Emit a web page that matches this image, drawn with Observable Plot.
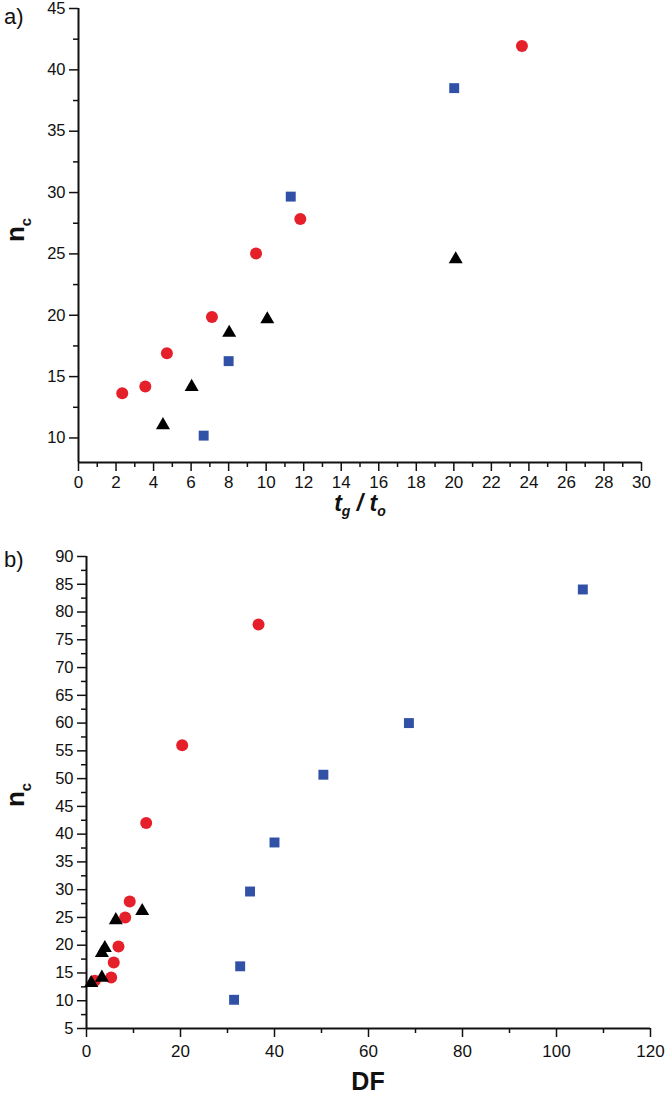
<!DOCTYPE html>
<html>
<head>
<meta charset="utf-8">
<script src="https://cdn.jsdelivr.net/npm/d3@7"></script>
<script src="https://cdn.jsdelivr.net/npm/@observablehq/plot@0.6"></script>
<style>
  html, body { margin: 0; padding: 0; background: #fff; }
  svg { display: block; }
</style>
</head>
<body>
<div id="chart"></div>
<script>
// ---- Panel a) : n_c vs tg/to ----
const aRedX  = [2.33, 3.56, 4.71, 7.11, 9.46, 11.82, 23.63];
const aRedY  = [13.65, 14.19, 16.91, 19.85, 25.04, 27.85, 41.94];
const aBlueX = [6.67, 8.0, 11.31, 20.02];
const aBlueY = [10.19, 16.26, 29.67, 38.51];
const aTriX  = [4.5, 6.03, 8.03, 10.06, 20.1];
const aTriY  = [11.04, 14.16, 18.57, 19.67, 24.56];
const aXMajor = [0, 2, 4, 6, 8, 10, 12, 14, 16, 18, 20, 22, 24, 26, 28, 30];
const aXMinor = [1, 3, 5, 7, 9, 11, 13, 15, 17, 19, 21, 23, 25, 27, 29];
const aYMajor = [10, 15, 20, 25, 30, 35, 40, 45];
const aYMinor = [12.5, 17.5, 22.5, 27.5, 32.5, 37.5, 42.5];

// ---- Panel b) : n_c vs DF ----
const bRedX  = [1.77, 5.25, 5.8, 6.8, 8.23, 9.2, 12.7, 20.36, 36.6];
const bRedY  = [13.6, 14.18, 16.9, 19.77, 25.0, 27.87, 42.0, 56.02, 77.75];
const bBlueX = [31.4, 32.7, 34.8, 40.0, 50.4, 68.6, 105.6];
const bBlueY = [10.17, 16.2, 29.67, 38.5, 50.7, 60.0, 84.06];
const bTriX  = [1.0, 3.27, 3.27, 3.9, 6.24, 11.85];
const bTriY  = [13.18, 14.16, 18.59, 19.5, 24.52, 26.15];
const bXMajor = [0, 20, 40, 60, 80, 100, 120];
const bXMinor = [10, 30, 50, 70, 90, 110];
const bYMajor = [5, 10, 15, 20, 25, 30, 35, 40, 45, 50, 55, 60, 65, 70, 75, 80, 85, 90];
const bYMinor = [7.5, 12.5, 17.5, 22.5, 27.5, 32.5, 37.5, 42.5, 47.5, 52.5, 57.5, 62.5, 67.5, 72.5, 77.5, 82.5, 87.5];

const RED = "#e5202a", BLUE = "#3051a6", BLACK = "#000";
const FONT = "'Liberation Sans', Arial, sans-serif";
const pts = (xs, ys) => xs.map((x, i) => ({x, y: ys[i]}));

function panel(o) {
  return Plot.plot({
    width: 666, height: o.height,
    marginLeft: o.ml, marginRight: o.mr, marginTop: o.mt, marginBottom: o.mb,
    style: {fontFamily: FONT, background: "#fff", color: "#111"},
    x: {domain: o.xDomain},
    y: {domain: o.yDomain},
    marks: [
      Plot.axisY({ticks: o.yMinor, tickSize: 5, tickFormat: () => "", label: null, strokeWidth: 1.5}),
      Plot.axisY({ticks: o.yMajor, tickSize: 9, tickPadding: 4, fontSize: 16.5, label: null, strokeWidth: 1.5}),
      Plot.axisX({ticks: o.xMinor, tickSize: 5, tickFormat: () => "", label: null, strokeWidth: 1.5}),
      Plot.axisX({ticks: o.xMajor, tickSize: 9, tickPadding: o.xPad, fontSize: 17, label: null, strokeWidth: 1.5}),
      Plot.ruleX([o.xDomain[0]], {stroke: "#111", strokeWidth: 2}),
      Plot.ruleY([o.yDomain[0]], {stroke: "#111", strokeWidth: 2}),
      Plot.dot(pts(o.blueX, o.blueY), {x: "x", y: "y", symbol: "square", fill: BLUE, r: 5.6}),
      Plot.dot(pts(o.redX, o.redY), {x: "x", y: "y", symbol: "circle", fill: RED, r: 6}),
      Plot.dot(pts(o.triX, o.triY), {x: "x", y: "y", symbol: "triangle", fill: BLACK, r: 5.2})
    ]
  });
}

const svgA = panel({
  height: 530, ml: 78, mr: 25, mt: 8, mb: 68, xPad: 4,
  xDomain: [0, 30], yDomain: [8, 45],
  xMajor: aXMajor, xMinor: aXMinor, yMajor: aYMajor, yMinor: aYMinor,
  redX: aRedX, redY: aRedY, blueX: aBlueX, blueY: aBlueY, triX: aTriX, triY: aTriY
});
const svgB = panel({
  height: 568, ml: 86, mr: 16, mt: 26, mb: 70, xPad: 7,
  xDomain: [0, 120], yDomain: [5, 90],
  xMajor: bXMajor, xMinor: bXMinor, yMajor: bYMajor, yMinor: bYMinor,
  redX: bRedX, redY: bRedY, blueX: bBlueX, blueY: bBlueY, triX: bTriX, triY: bTriY
});

// Titles / axis labels with subscripts
function addLabels(svg, panelLabel, panelY, yLabelY, xLabelX, xLabelY, xFont, xLabelParts, xItalic) {
  const s = d3.select(svg);
  s.append("text").attr("x", 4).attr("y", panelY).attr("text-anchor", "start")
    .attr("font-family", FONT).attr("font-size", 22).attr("fill", "#111").text(panelLabel);
  const ny = s.append("text")
    .attr("transform", `translate(24,${yLabelY}) rotate(-90)`)
    .attr("text-anchor", "middle").attr("font-family", FONT)
    .attr("font-weight", "bold").attr("font-size", 26).attr("fill", "#111");
  ny.append("tspan").text("n");
  ny.append("tspan").attr("font-size", 15).attr("dy", 7).text("c");
  const xl = s.append("text").attr("x", xLabelX).attr("y", xLabelY)
    .attr("text-anchor", "middle").attr("font-family", FONT)
    .attr("font-weight", "bold").attr("font-size", xFont).attr("fill", "#111")
    .attr("font-style", xItalic ? "italic" : "normal");
  for (const p of xLabelParts) {
    const t = xl.append("tspan").text(p.t);
    if (p.sub) t.attr("font-size", 14).attr("dy", 5);
    if (p.up) t.attr("dy", -5);
  }
}
addLabels(svgA, "a)", 24, 230, 360, 511, 23,
  [{t: "t"}, {t: "g", sub: true}, {t: " / ", up: true}, {t: "t"}, {t: "o", sub: true}], true);
addLabels(svgB, "b)", 37, 265, 368, 560, 25, [{t: "DF"}], false);

document.getElementById("chart").append(svgA, svgB);
</script>
</body>
</html>
